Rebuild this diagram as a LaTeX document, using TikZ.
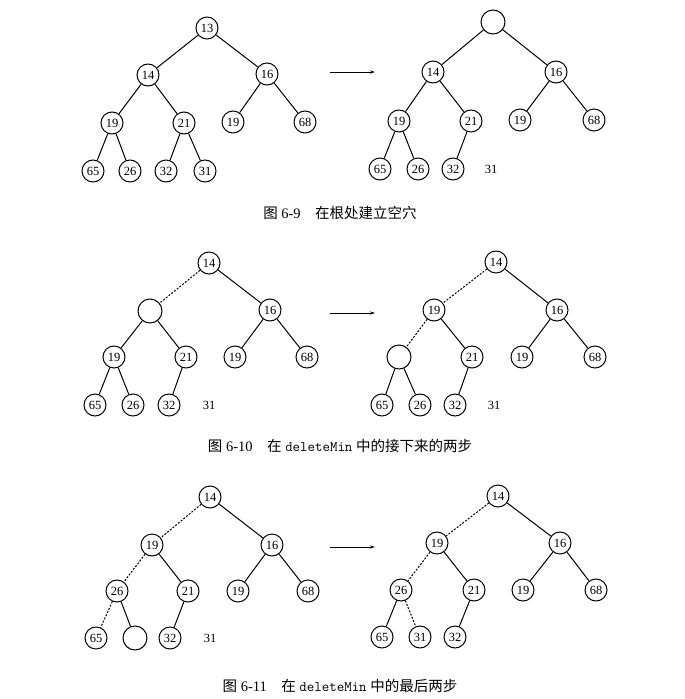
\documentclass[tikz,border=0pt]{standalone}
\usepackage{fontspec}
\setmainfont{Liberation Serif}
\newfontfamily\cjk{Noto Sans CJK SC}
\usetikzlibrary{arrows.meta}
\begin{document}
\begin{tikzpicture}[x=1pt,y=-1pt,
  nd/.style={circle,draw,line width=1pt,minimum size=22pt,inner sep=0pt,font=\fontsize{12.5}{12.5}\selectfont},
  hole/.style={circle,draw,line width=1pt,minimum size=24pt,inner sep=0pt},
  txt/.style={inner sep=0pt,font=\fontsize{12.5}{12.5}\selectfont},
  ed/.style={line width=1pt},
  dd/.style={line width=1pt,dashed,dash pattern=on 2pt off 1.5pt},
  arr/.style={line width=1pt,-{Stealth[length=5pt,width=3pt]}},
  captxt/.style={inner sep=0pt,font=\fontsize{14.5}{14.5}\selectfont}]
\useasboundingbox (0,0) rectangle (685,699);
% ---------- Fig 6-9 left
\node[nd] (a1) at (207,28) {13};
\node[nd] (a2) at (148,75) {14};
\node[nd] (a3) at (267,74) {16};
\node[nd] (a4) at (112,123) {19};
\node[nd] (a5) at (184,123) {21};
\node[nd] (a6) at (233,122) {19};
\node[nd] (a7) at (305,122) {68};
\node[nd] (a8) at (93,171) {65};
\node[nd] (a9) at (130,171) {26};
\node[nd] (a10) at (166,171) {32};
\node[nd] (a11) at (205,171) {31};
\draw[ed] (a1)--(a2) (a1)--(a3) (a2)--(a4) (a2)--(a5) (a3)--(a6) (a3)--(a7)
  (a4)--(a8) (a4)--(a9) (a5)--(a10) (a5)--(a11);
% right
\node[hole] (b1) at (493,22) {};
\node[nd] (b2) at (433,72) {14};
\node[nd] (b3) at (556,72) {16};
\node[nd] (b4) at (399,121) {19};
\node[nd] (b5) at (471,121) {21};
\node[nd] (b6) at (520,120) {19};
\node[nd] (b7) at (594,120) {68};
\node[nd] (b8) at (380,169) {65};
\node[nd] (b9) at (418,169) {26};
\node[nd] (b10) at (453,169) {32};
\node[txt] (b11) at (491,169) {31};
\draw[ed] (b1)--(b2) (b1)--(b3) (b2)--(b4) (b2)--(b5) (b3)--(b6) (b3)--(b7)
  (b4)--(b8) (b4)--(b9) (b5)--(b10);
\coordinate (p1) at (330,72); \coordinate (q1) at (375,72);
\draw[arr] (p1)--(q1);
\node[captxt] (c1) at (340,213) {{\cjk 图} 6-9\quad{\cjk 在根处建立空穴}};
% ---------- Fig 6-10 left
\node[nd] (d1) at (209,263) {14};
\node[hole] (d2) at (150,311) {};
\node[nd] (d3) at (270,310) {16};
\node[nd] (d4) at (114,357) {19};
\node[nd] (d5) at (186,357) {21};
\node[nd] (d6) at (235,357) {19};
\node[nd] (d7) at (307,357) {68};
\node[nd] (d8) at (95,405) {65};
\node[nd] (d9) at (133,405) {26};
\node[nd] (d10) at (169,405) {32};
\node[txt] (d11) at (209,405) {31};
\draw[dd] (d1)--(d2);
\draw[ed] (d1)--(d3) (d2)--(d4) (d2)--(d5) (d3)--(d6) (d3)--(d7)
  (d4)--(d8) (d4)--(d9) (d5)--(d10);
% right
\node[nd] (e1) at (496,262) {14};
\node[nd] (e2) at (434,310) {19};
\node[nd] (e3) at (557,310) {16};
\node[hole] (e4) at (399,357) {};
\node[nd] (e5) at (472,357) {21};
\node[nd] (e6) at (522,357) {19};
\node[nd] (e7) at (595,357) {68};
\node[nd] (e8) at (382,405) {65};
\node[nd] (e9) at (420,405) {26};
\node[nd] (e10) at (455,405) {32};
\node[txt] (e11) at (494,405) {31};
\draw[dd] (e1)--(e2) (e2)--(e4);
\draw[ed] (e1)--(e3) (e2)--(e5) (e3)--(e6) (e3)--(e7)
  (e4)--(e8) (e4)--(e9) (e5)--(e10);
\coordinate (p2) at (330,313); \coordinate (q2) at (375,313);
\draw[arr] (p2)--(q2);
\node[captxt] (c2) at (340,446) {{\cjk 图} 6-10\quad{\cjk 在} \texttt{deleteMin} {\cjk 中的接下来的两步}};
% ---------- Fig 6-11 left
\node[nd] (f1) at (210,497) {14};
\node[nd] (f2) at (152,545) {19};
\node[nd] (f3) at (272,545) {16};
\node[nd] (f4) at (117,591) {26};
\node[nd] (f5) at (188,591) {21};
\node[nd] (f6) at (238,591) {19};
\node[nd] (f7) at (308,591) {68};
\node[nd] (f8) at (96,638) {65};
\node[hole] (f9) at (135,638) {};
\node[nd] (f10) at (170,638) {32};
\node[txt] (f11) at (210,638) {31};
\draw[dd] (f1)--(f2) (f2)--(f4) (f4)--(f8);
\draw[ed] (f1)--(f3) (f2)--(f5) (f3)--(f6) (f3)--(f7)
  (f4)--(f9) (f5)--(f10);
% right
\node[nd] (g1) at (498,496) {14};
\node[nd] (g2) at (437,543) {19};
\node[nd] (g3) at (560,543) {16};
\node[nd] (g4) at (401,590) {26};
\node[nd] (g5) at (474,590) {21};
\node[nd] (g6) at (523,590) {19};
\node[nd] (g7) at (596,590) {68};
\node[nd] (g8) at (382,637) {65};
\node[nd] (g9) at (420,637) {31};
\node[nd] (g10) at (455,637) {32};
\draw[dd] (g1)--(g2) (g2)--(g4) (g4)--(g9);
\draw[ed] (g1)--(g3) (g2)--(g5) (g3)--(g6) (g3)--(g7)
  (g4)--(g8) (g5)--(g10);
\coordinate (p3) at (330,547); \coordinate (q3) at (375,547);
\draw[arr] (p3)--(q3);
\node[captxt] (c3) at (340,686) {{\cjk 图} 6-11\quad{\cjk 在} \texttt{deleteMin} {\cjk 中的最后两步}};
\end{tikzpicture}
\end{document}
